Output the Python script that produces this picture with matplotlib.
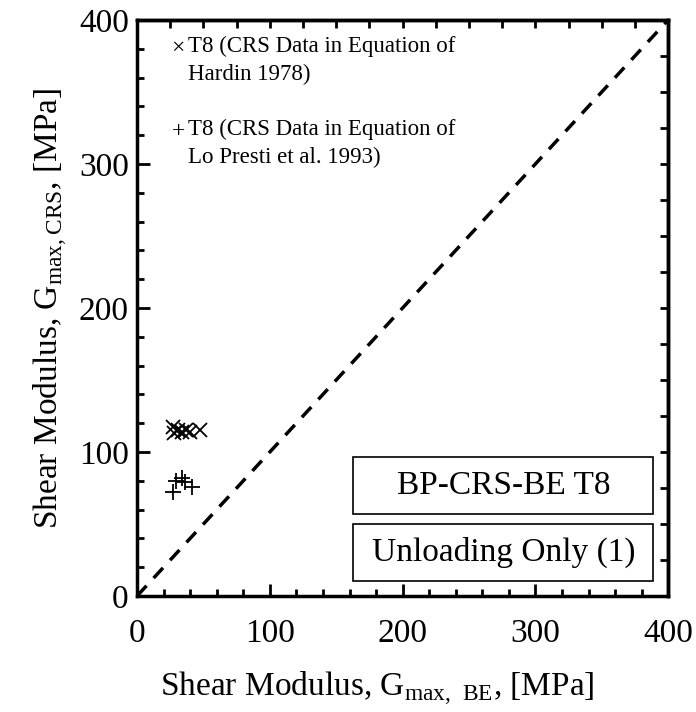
import matplotlib
matplotlib.use("Agg")
import matplotlib.pyplot as plt
from matplotlib.ticker import MultipleLocator
from matplotlib.patches import Rectangle

plt.rcParams["font.family"] = ["Liberation Serif", "DejaVu Serif"]
plt.rcParams["mathtext.fontset"] = "custom"
plt.rcParams["mathtext.rm"] = "Liberation Serif"

# ------------------- DATA -------------------
hardin_x = [27, 28, 31, 34, 37, 40, 47]
hardin_y = [117, 113, 115, 114, 115, 114, 115]
lopresti_x = [27, 29, 34, 36, 41]
lopresti_y = [72, 80, 82, 79, 76]
line_x = [0, 400]
line_y = [0, 400]

fig = plt.figure(figsize=(6.96, 7.12), dpi=100)
ax = fig.add_axes([0.197, 0.163, 0.763, 0.809])

ax.plot(line_x, line_y, ls=(0, (4, 3)), color="black", lw=2.5)
ax.plot(hardin_x, hardin_y, "x", color="black", ms=10, mew=1.3)
ax.plot(lopresti_x, lopresti_y, "+", color="black", ms=11, mew=1.3)

ax.set_xlim(0, 400)
ax.set_ylim(0, 400)
ax.xaxis.set_major_locator(MultipleLocator(100))
ax.yaxis.set_major_locator(MultipleLocator(100))
ax.xaxis.set_minor_locator(MultipleLocator(20))
ax.yaxis.set_minor_locator(MultipleLocator(20))
ax.tick_params(which="both", direction="in", width=2, labelsize=24)
ax.tick_params(which="major", length=9)
ax.tick_params(which="minor", length=5)
ax.tick_params(axis="x", which="major", pad=16)
ax.tick_params(axis="y", which="major", pad=6)
for sp in ax.spines.values():
    sp.set_linewidth(2.5)

# top / right ticks every 25
top = ax.secondary_xaxis("top")
top.xaxis.set_major_locator(MultipleLocator(25))
top.tick_params(direction="in", length=6, width=2, labeltop=False)
right = ax.secondary_yaxis("right")
right.yaxis.set_major_locator(MultipleLocator(25))
right.tick_params(direction="in", length=6, width=2, labelright=False)
top.spines["top"].set_linewidth(2.5)
right.spines["right"].set_linewidth(2.5)

ax.set_xlabel(r"Shear Modulus, G$_{\mathrm{max,\ BE}}$, [MPa]", fontsize=24)
ax.xaxis.set_label_coords(0.452, -0.128)
ax.set_ylabel(r"Shear Modulus, G$_{\mathrm{max,CRS}}$, [MPa]", fontsize=24, labelpad=6)

# legend drawn as text (marker glyph + two-line label)
legend_items = [("×", "T8 (CRS Data in Equation of\nHardin 1978)", 0.950),
                ("+", "T8 (CRS Data in Equation of\nLo Presti et al. 1993)", 0.806)]
for glyph, label, yy in legend_items:
    ax.text(0.077, yy, glyph, transform=ax.transAxes, ha="center", va="center",
            fontsize=17)
    ax.text(0.096, yy + 0.022, label, transform=ax.transAxes, ha="left", va="top",
            fontsize=16.5, linespacing=1.4)

# label boxes
boxes = [("BP-CRS-BE T8", 0.143, 0.241), ("Unloading Only (1)", 0.026, 0.125)]
for txt, y0, y1 in boxes:
    ax.add_patch(Rectangle((0.407, y0), 0.565, y1 - y0, transform=ax.transAxes,
                           fill=False, ec="black", lw=1.2))
    ax.text(0.407 + 0.565 / 2, (y0 + y1) / 2, txt, transform=ax.transAxes,
            ha="center", va="center", fontsize=24)

fig.savefig("out.png", dpi=100)
